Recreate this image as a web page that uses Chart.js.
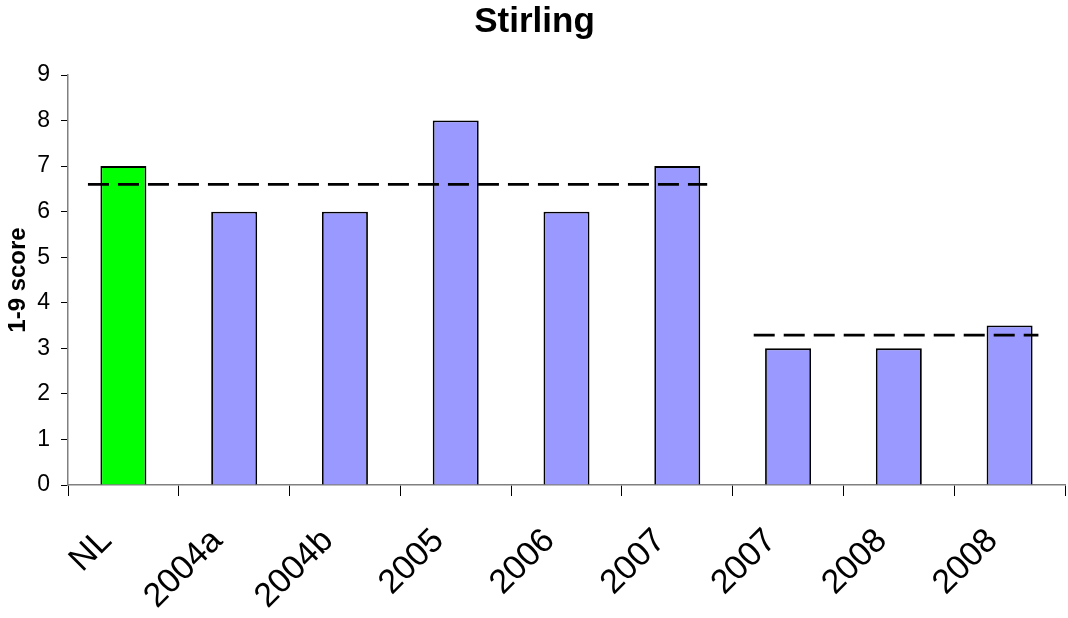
<!DOCTYPE html>
<html><head><meta charset="utf-8">
<script src="https://cdn.jsdelivr.net/npm/chart.js@4/dist/chart.umd.min.js"></script>
<style>html,body{margin:0;padding:0;background:#fff}#wrap{width:1068px;height:618px}</style>
</head><body><div id="wrap"><canvas id="c"></canvas></div>
<script>
const categories = ["NL","2004a","2004b","2005","2006","2007","2007","2008","2008"];
const scores = [7,6,6,8,6,7,3,3,3.5];
const barColors = ["#00FF00","#9999FF","#9999FF","#9999FF","#9999FF","#9999FF","#9999FF","#9999FF","#9999FF"];
const avgLine1 = [{x:-0.32,y:6.60},{x:5.27,y:6.60}];
const avgLine2 = [{x:5.69,y:3.29},{x:8.26,y:3.29}];
const yTicks = [0,1,2,3,4,5,6,7,8,9];

const FONT = "'Liberation Sans', Arial, sans-serif";
new Chart(document.getElementById('c'), {
  type:'bar',
  data: {
    labels: categories,
    datasets: [
      {type:'bar', data: scores, backgroundColor: barColors, borderColor:'#000', borderWidth:1.8,
       barPercentage:0.415, categoryPercentage:1, grouped:false, order:2},
      {type:'line', data: avgLine1, xAxisID:'x2', borderColor:'#000', borderWidth:2.7, borderDash:[21,9],
       pointRadius:0, fill:false, order:1},
      {type:'line', data: avgLine2, xAxisID:'x2', borderColor:'#000', borderWidth:2.7, borderDash:[21,9],
       pointRadius:0, fill:false, order:1}
    ]
  },
  options: {
    responsive:true, maintainAspectRatio:false, animation:false,
    layout:{padding:{left:4,right:3,top:0,bottom:0}},
    plugins:{
      legend:{display:false}, tooltip:{enabled:false},
      title:{display:true, text:'Stirling', color:'#000', font:{family:FONT,size:35,weight:'bold'}, padding:{top:1,bottom:32}}
    },
    scales:{
      x:{type:'category', offset:true,
        afterFit:(s)=>{s.height = 133;},
        grid:{display:true, drawOnChartArea:false, offset:true, color:'#000', tickLength:11, tickWidth:1},
        border:{display:true,color:'#808080',width:1.5},
        ticks:{color:'#000', font:{family:FONT,size:34}, maxRotation:45, minRotation:45, padding:25, labelOffset:-17}
      },
      x2:{type:'linear', min:-0.5, max:8.5, offset:false, display:false, grid:{offset:false}},
      y:{min:0,max:9,
        afterBuildTicks:(s)=>{s.ticks = yTicks.map(v=>({value:v}));},
        afterFit:(s)=>{s.width = 64;},
        grid:{display:true, drawOnChartArea:false, color:'#000', tickLength:7},
        border:{display:true,color:'#808080',width:1.5},
        ticks:{color:'#000', font:{family:FONT,size:23}, padding:11},
        title:{display:true, text:'1-9 score', color:'#000', font:{family:FONT,size:24,weight:'bold'}, padding:{top:0,bottom:2}}
      }
    }
  }
});
</script></body></html>
